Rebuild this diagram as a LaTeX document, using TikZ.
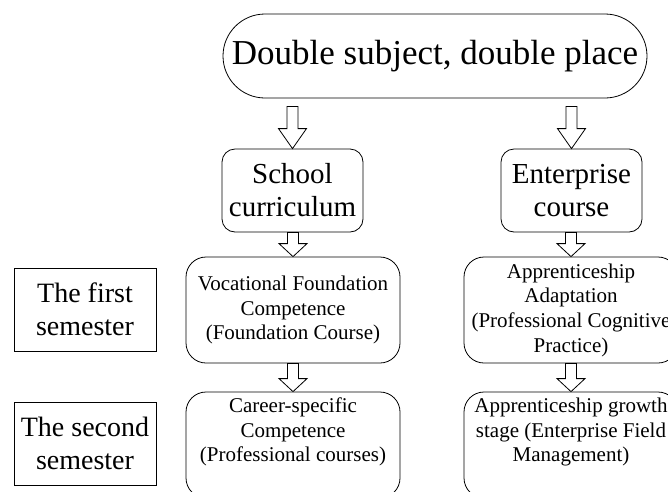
\documentclass[tikz,border=0pt]{standalone}
\usepackage{fontspec}
\setmainfont{Liberation Serif}
\usetikzlibrary{calc}
\newcommand\blockarr[4]{% from, to, gap below source, head length
  \draw[blk] let \p1=(#1.south), \p2=(#2.north) in
    (\x2-5.5pt,\y1-#3) -- (\x2-5.5pt,\y2+#4) -- (\x2-14pt,\y2+#4) -- (\x2,\y2)
    -- (\x2+14pt,\y2+#4) -- (\x2+5.5pt,\y2+#4) -- (\x2+5.5pt,\y1-#3) -- cycle;}
\begin{document}
\begin{tikzpicture}[x=1pt,y=-1pt,
  base/.style={draw, line width=0.8pt, align=center, inner sep=0pt},
  pill/.style={base, minimum width=424pt, minimum height=84pt, rounded corners=42pt,
    font=\fontsize{35}{40}\selectfont},
  course/.style={base, minimum width=141pt, minimum height=83pt, rounded corners=13pt,
    font=\fontsize{29}{33}\selectfont},
  stage/.style={base, minimum width=214pt, minimum height=106pt, rounded corners=20pt,
    font=\fontsize{21}{24.7}\selectfont},
  sem/.style={base, minimum width=142pt, minimum height=83pt,
    font=\fontsize{28}{33}\selectfont},
  txt/.style={align=center, inner sep=0pt, font=\fontsize{21}{24.7}\selectfont},
  blk/.style={draw, fill=white, line width=0.8pt, line join=miter}]
\useasboundingbox (0,0) rectangle (668,491);
\clip (0,0) rectangle (668,491);

\node[pill] (title) at (435,56) {Double subject, double place};

\node[course] (school) at (292.5,190.5) {School\\curriculum};
\node[course] (enter) at (571.5,190.5) {Enterprise\\course};

\node[stage] (voc) at (293,310) {Vocational Foundation\\Competence\\(Foundation Course)};
\node[stage] (adapt) at (571,310) {Apprenticeship\\Adaptation\\(Professional Cognitive\\Practice)};

\node[stage] (career) at (293,445) {};
\node[txt] (careertxt) at (293,432) {Career-specific\\Competence\\(Professional courses)};
\node[stage] (growth) at (571,445) {};
\node[txt] (growthtxt) at (571,432) {Apprenticeship growth\\stage (Enterprise Field\\Management)};

\node[sem] (sem1) at (85,309.5) {The first\\semester};
\node[sem] (sem2) at (85,443.5) {The second\\semester};

\blockarr{title}{school}{8pt}{20pt}
\blockarr{title}{enter}{8pt}{20pt}
\blockarr{school}{voc}{0pt}{13pt}
\blockarr{enter}{adapt}{0pt}{13pt}
\blockarr{voc}{career}{0pt}{13pt}
\blockarr{adapt}{growth}{0pt}{13pt}
\end{tikzpicture}
\end{document}
